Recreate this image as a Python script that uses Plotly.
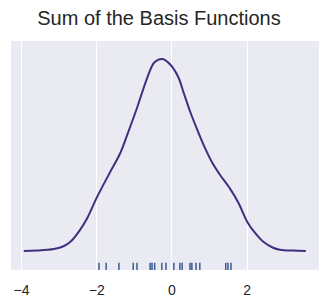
import plotly.graph_objects as go

# Curve (x, summed basis value, arbitrary units with peak ~1)
curve_x = [-3.94, -3.59, -3.14, -2.87, -2.70, -2.48, -2.25, -2.00, -1.68, -1.37,
           -1.16, -0.93, -0.66, -0.47, -0.25, -0.04, 0.17, 0.31,
           0.48, 0.66, 0.88, 1.10, 1.28, 1.54, 1.77, 2.00, 2.21, 2.43, 2.69,
           2.87, 3.22, 3.56]
curve_y = [0.000, 0.002, 0.010, 0.026, 0.048, 0.100, 0.172, 0.278, 0.398, 0.512,
           0.621, 0.745, 0.901, 0.982, 1.000, 0.970, 0.905, 0.825,
           0.728, 0.638, 0.536, 0.450, 0.396, 0.326, 0.250, 0.153, 0.094, 0.048,
           0.017, 0.007, 0.002, 0.000]

# Rug sample positions
rug_x = [-1.94, -1.75, -1.41, -1.03, -0.93, -0.58, -0.53, -0.46, -0.27, -0.16,
         0.05, 0.21, 0.27, 0.48, 0.53, 0.64, 0.74, 1.43, 1.49, 1.57]
rug_level = -0.083

tick_vals = [-4, -2, 0, 2]

fig = go.Figure()
fig.add_trace(go.Scatter(
    x=curve_x, y=curve_y, mode="lines",
    line=dict(color="#41307f", width=2, shape="spline", smoothing=0.9),
    hoverinfo="skip", showlegend=False))
fig.add_trace(go.Scatter(
    x=rug_x, y=[rug_level] * len(rug_x), mode="markers",
    marker=dict(symbol="line-ns", size=6, line=dict(color="#3b5b92", width=1.5)),
    hoverinfo="skip", showlegend=False))

fig.update_layout(
    width=330, height=308,
    margin=dict(l=11, r=11, t=41, b=38),
    paper_bgcolor="white", plot_bgcolor="#EAEAF2",
    font=dict(family="Liberation Sans, Arial, sans-serif", color="#262626", size=13),
    title=dict(text="Sum of the Basis Functions", x=159/330, xanchor="center",
               xref="container", y=1 - 17.5/308, yanchor="middle", yref="container",
               font=dict(size=20, color="#262626")),
)
fig.update_xaxes(range=[-4.28, 3.91], tickvals=tick_vals, showgrid=True,
                 gridcolor="white", gridwidth=1, zeroline=False, showline=False,
                 ticks="outside", ticklen=7, tickcolor="rgba(0,0,0,0)",
                 tickfont=dict(size=14, color="#262626"))
fig.update_yaxes(range=[-0.099, 1.094], showticklabels=False, showgrid=False,
                 zeroline=False, showline=False, ticks="")

fig.write_html("out.html")
